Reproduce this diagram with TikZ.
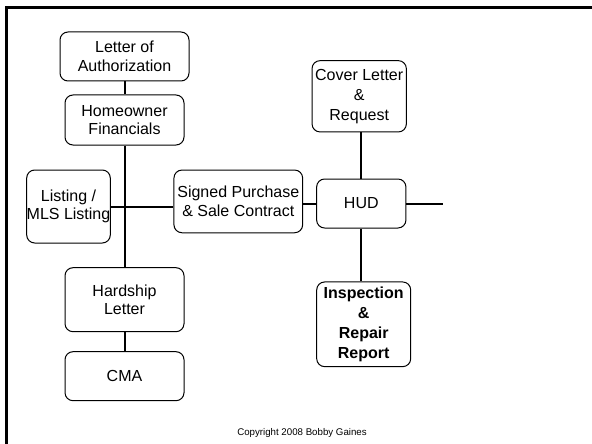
\documentclass[tikz,border=0pt]{standalone}
\usepackage{fontspec}
\setmainfont{Liberation Sans}
\begin{document}
\begin{tikzpicture}[x=1pt,y=-1pt,
  box/.style={draw, line width=1pt, rounded corners=8pt, inner sep=0pt,
    align=center, font=\fontsize{16}{18.5}\selectfont},
  tallbox/.style={box, font=\fontsize{16}{20}\selectfont},
  link/.style={line width=2pt}]
\useasboundingbox (0,0) rectangle (592,444);
\clip (0,0) rectangle (592,444);
% page frame (top and left edges)
\draw[line width=2.5pt] (6.5,460) -- (6.5,7.5) -- (610,7.5);

% left column
\node[box, minimum width=129pt, minimum height=49pt] (loa) at (124.5,56.5) {Letter of\\Authorization};
\node[box, minimum width=119pt, minimum height=50pt] (fin) at (124.5,120) {Homeowner\\Financials};
\node[box, minimum width=83pt, minimum height=73pt] (mls) at (68.5,206.5) {Listing /\\MLS Listing};
\node[box, minimum width=119pt, minimum height=64pt] (hard) at (124.5,299.7) {Hardship\\Letter};
\node[box, minimum width=119pt, minimum height=49pt] (cma) at (124.5,376.2) {CMA};

% centre and right
\node[box, minimum width=128.7pt, minimum height=62.7pt] (psc) at (238.3,201.4) {Signed Purchase\\\& Sale Contract};
\node[box, minimum width=89.3pt, minimum height=49pt] (hud) at (361.3,203.5) {HUD};
\node[tallbox, minimum width=94.3pt, minimum height=71.3pt] (cov) at (359.2,96.3) {Cover Letter\\\&\\Request};
\node[tallbox, minimum width=94pt, minimum height=84.7pt, font=\fontsize{16}{20}\selectfont\bfseries] (insp) at (363.7,324.3) {Inspection\\\&\\Repair\\Report};

\coordinate (hudout) at (443,203.5);

% connectors
\draw[link] (loa.south) -- (fin.north);
\draw[link] (fin.south) -- (hard.north);
\draw[link] (hard.south) -- (cma.north);
\draw[link] (mls.east) -- (mls.east -| psc.west);
\draw[link] (hud.west) -- (hud.west -| psc.east);
\draw[link] (hud.north) -- (hud.north |- cov.south);
\draw[link] (hud.south) -- (hud.south |- insp.north);
\draw[link] (hud.east) -- (hudout);

\node[font=\fontsize{9.7}{11}\selectfont] (copy) at (302,433) {Copyright 2008 Bobby Gaines};
\end{tikzpicture}
\end{document}
